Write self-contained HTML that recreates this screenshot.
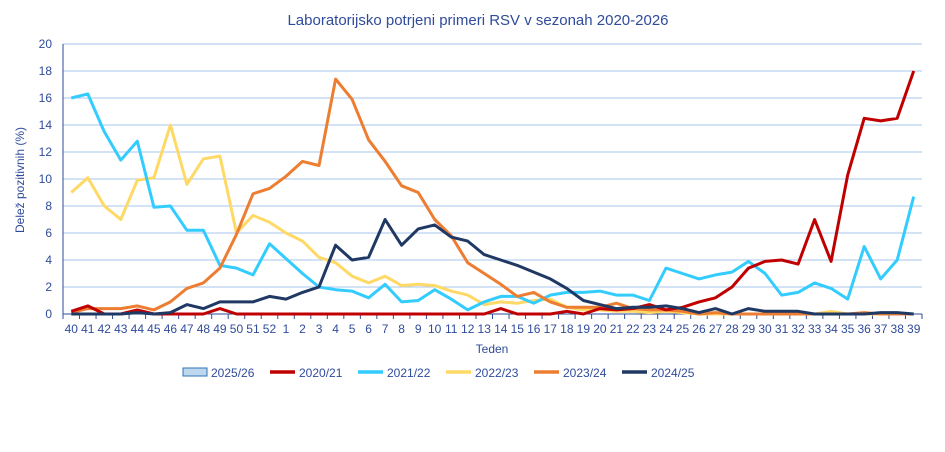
<!DOCTYPE html>
<html><head><meta charset="utf-8"><style>
body{margin:0;background:#fff;}
svg{font-family:"Liberation Sans",sans-serif;}
</style></head><body>
<svg id="c" width="945" height="447" xmlns="http://www.w3.org/2000/svg">
<rect width="945" height="447" fill="#fff"/>
<text x="478" y="25" text-anchor="middle" font-size="15" fill="#2F4B9B">Laboratorijsko potrjeni primeri RSV v sezonah 2020-2026</text>
<g id="grid"></g>
<g id="series"></g>
<text x="492" y="353" text-anchor="middle" font-size="12" fill="#2F4B9B">Teden</text>
<text transform="translate(24,180) rotate(-90)" text-anchor="middle" font-size="12" fill="#2F4B9B">Delež pozitivnih (%)</text>
<g font-size="12" fill="#2F4B9B">
<rect x="183" y="368" width="24" height="8" fill="#BDD7EE" stroke="#2E75B6" stroke-width="1"/>
<text x="211" y="377">2025/26</text>
<line x1="270" y1="372" x2="295" y2="372" stroke="#C00000" stroke-width="3.5"/>
<text x="299" y="377">2020/21</text>
<line x1="358" y1="372" x2="383" y2="372" stroke="#33CCFF" stroke-width="3.5"/>
<text x="387" y="377">2021/22</text>
<line x1="446" y1="372" x2="471" y2="372" stroke="#FFD966" stroke-width="3.5"/>
<text x="475" y="377">2022/23</text>
<line x1="534" y1="372" x2="559" y2="372" stroke="#ED7D31" stroke-width="3.5"/>
<text x="563" y="377">2023/24</text>
<line x1="622" y1="372" x2="647" y2="372" stroke="#1F3864" stroke-width="3.5"/>
<text x="651" y="377">2024/25</text>
</g>
</svg>
<script>
const NS="http://www.w3.org/2000/svg";
const X0=63,X1=922,N=52,W=(X1-X0)/N,Y0=314,S=13.5;
const g=document.getElementById('grid'),s=document.getElementById('series');
function el(t,a,p,txt){const e=document.createElementNS(NS,t);for(const k in a)e.setAttribute(k,a[k]);if(txt!==undefined)e.textContent=txt;p.appendChild(e);return e;}
for(let v=2;v<=20;v+=2){el('line',{x1:X0,x2:X1,y1:Y0-v*S,y2:Y0-v*S,stroke:'#A9C4EB','stroke-width':1},g);}
for(let v=0;v<=20;v+=2){el('text',{x:52,y:Y0-v*S+4,'text-anchor':'end','font-size':12,fill:'#2F4B9B'},g,v);}
el('line',{x1:X0,x2:X0,y1:44,y2:Y0+5,stroke:'#2F4B9B','stroke-width':1},g);
el('line',{x1:X0,x2:X1,y1:Y0,y2:Y0,stroke:'#2F4B9B','stroke-width':1},g);
const wk=[];for(let i=40;i<=52;i++)wk.push(i);for(let i=1;i<=39;i++)wk.push(i);
for(let i=0;i<=N;i++){const x=X0+i*W;el('line',{x1:x,x2:x,y1:Y0,y2:Y0+5,stroke:'#2F4B9B','stroke-width':1},g);}
wk.forEach((w,i)=>el('text',{x:X0+W*(i+0.5),y:Y0+19,'text-anchor':'middle','font-size':12,fill:'#2F4B9B'},g,w));
function z(n){return Array(n).fill(0);}
const red=[0.2,0.6,0,0,0.3,0,0,0,0,0.4,0,0,0, 0,0,0,0,0,0,0,0,0,0,0,0,0,0.4,0,0,0,0.2,0,0.4,0.3,0.4,0.7,0.3,0.5,0.9,1.2,2,3.4,3.9,4,3.7,7,3.9,10.3,14.5,14.3,14.5,18];
const cyan=[16,16.3,13.5,11.4,12.8,7.9,8,6.2,6.2,3.6,3.4,2.9,5.2,4.1,3,2,1.8,1.7,1.2,2.2,0.9,1,1.8,1.1,0.3,0.9,1.3,1.3,0.8,1.4,1.6,1.6,1.7,1.4,1.4,1,3.4,3,2.6,2.9,3.1,3.9,3,1.4,1.6,2.3,1.9,1.1,5,2.6,4,8.7];
const yel=[9,10.1,8,7,9.9,10.1,14,9.6,11.5,11.7,6,7.3,6.8,6,5.4,4.2,3.8,2.8,2.3,2.8,2.1,2.2,2.1,1.7,1.4,0.7,0.9,0.8,1,1.1,0.5,0.3,0.3,0.2,0.2,0.1,0.2,0.1,0,0,0,0,0,0,0,0,0.2,0,0,0,0,0];
const ora=[0.1,0.4,0.4,0.4,0.6,0.3,0.9,1.9,2.3,3.4,5.9,8.9,9.3,10.2,11.3,11,17.4,15.9,12.9,11.3,9.5,9,7,5.8,3.8,3,2.2,1.3,1.6,0.9,0.5,0.5,0.5,0.8,0.4,0.3,0.3,0.2,0,0.1,0,0,0,0,0,0,0,0,0.1,0,0,0];
const nav=[0,0,0,0,0.1,0,0.1,0.7,0.4,0.9,0.9,0.9,1.3,1.1,1.6,2,5.1,4,4.2,7,5.1,6.3,6.6,5.7,5.4,4.4,4,3.6,3.1,2.6,1.9,1,0.7,0.4,0.5,0.5,0.6,0.4,0.1,0.4,0,0.4,0.2,0.2,0.2,0,0,0,0,0.1,0.1,0];
[[yel,'#FFD966'],[cyan,'#33CCFF'],[ora,'#ED7D31'],[red,'#C00000'],[nav,'#1F3864']].forEach(([d,c])=>{
 const pts=d.map((v,i)=>(X0+W*(i+0.5)).toFixed(1)+','+(Y0-v*S).toFixed(1)).join(' ');
 el('polyline',{points:pts,fill:'none',stroke:c,'stroke-width':3,'stroke-linejoin':'round'},s);
});
</script>
</body></html>
